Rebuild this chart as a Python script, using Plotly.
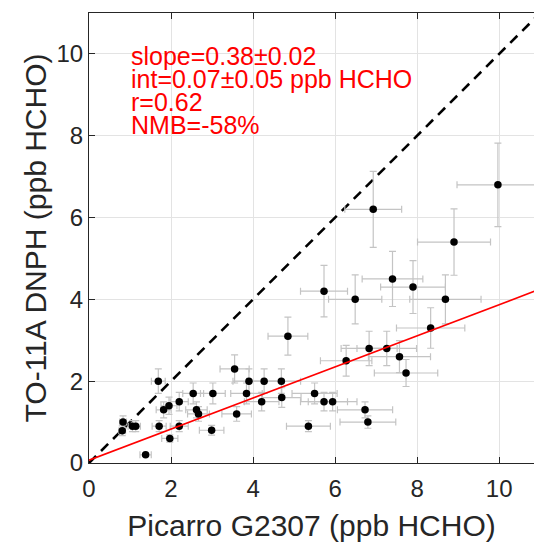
import plotly.graph_objects as go

# Data
picarro = [0.83, 0.81, 1.06, 1.14, 1.38, 1.69, 1.71, 1.82, 1.95, 1.97, 2.20, 2.20,
           2.54, 2.62, 2.67, 3.02, 2.99, 3.55, 3.60, 3.84, 3.90, 4.21, 4.27, 4.69,
           4.70, 4.85, 5.35, 5.50, 5.73, 5.94, 5.73, 6.49, 6.93, 6.27, 6.83, 7.26,
           7.57, 7.73, 6.73, 6.80, 7.40, 7.90, 8.69, 8.33, 8.90, 9.97]
dnph = [1.0, 0.79, 0.9, 0.9, 0.2, 2.0, 0.9, 1.3, 1.4, 0.6, 1.5, 0.9,
        1.7, 1.3, 1.2, 1.7, 0.8, 2.3, 1.2, 1.7, 2.0, 1.5, 2.0, 2.0,
        1.6, 3.1, 0.9, 1.7, 1.5, 1.5, 4.2, 4.0, 6.2, 2.5, 2.8, 2.8,
        2.6, 2.2, 1.3, 1.0, 4.5, 4.3, 4.0, 3.3, 5.4, 6.8]
x_err_pct = 10
y_err_pct = 15
slope = 0.38
intercept = 0.07
line_x = [0, 11]
stats_lines = ["slope=0.38\u00b10.02", "int=0.07\u00b10.05 ppb HCHO", "r=0.62", "NMB=-58%"]
x_ticks = [0, 2, 4, 6, 8, 10]
y_ticks = [0, 2, 4, 6, 8, 10]

FONT = "Liberation Sans, Arial, sans-serif"
fig = go.Figure()

fig.add_trace(go.Scatter(
    x=line_x, y=line_x, mode="lines",
    line=dict(color="black", width=2.6, dash="10px,7px"),
    hoverinfo="skip", showlegend=False))

fig.add_trace(go.Scatter(
    x=picarro, y=dnph, mode="markers",
    marker=dict(color="black", size=7.5),
    error_x=dict(type="percent", value=x_err_pct, color="#c4c4c4", thickness=1.2, width=3.5),
    error_y=dict(type="percent", value=y_err_pct, color="#c4c4c4", thickness=1.2, width=3.5),
    showlegend=False))

fig.add_trace(go.Scatter(
    x=line_x, y=[intercept + slope * v for v in line_x], mode="lines",
    line=dict(color="red", width=1.6),
    hoverinfo="skip", showlegend=False))

y0 = 9.95
for i, t in enumerate(stats_lines):
    fig.add_annotation(x=0.97, y=y0 - i * 0.562, xref="x", yref="y", text=t,
                       showarrow=False, xanchor="left", yanchor="middle",
                       font=dict(family=FONT, size=25, color="red"))

axis_common = dict(
    showgrid=True, gridcolor="#e3e3e3", gridwidth=1,
    showline=True, linecolor="#262626", linewidth=1.2,
    ticks="inside", ticklen=6, tickcolor="#262626",
    tickfont=dict(family=FONT, size=24, color="#262626"),
    zeroline=False,
)

fig.update_layout(
    width=534, height=546,
    margin=dict(l=89, r=0, t=13, b=83),
    plot_bgcolor="white", paper_bgcolor="white",
    xaxis=dict(range=[0, 10.85], tickvals=x_ticks, mirror="ticks", ticklabelstandoff=4,
               title=dict(text="Picarro G2307 (ppb HCHO)",
                          font=dict(family=FONT, size=30, color="#262626"), standoff=14),
               **axis_common),
    yaxis=dict(range=[0, 11], tickvals=y_ticks,
               title=dict(text="TO-11A DNPH (ppb HCHO)",
                          font=dict(family=FONT, size=30, color="#262626"), standoff=0),
               **axis_common),
)

fig.write_html("out.html")
